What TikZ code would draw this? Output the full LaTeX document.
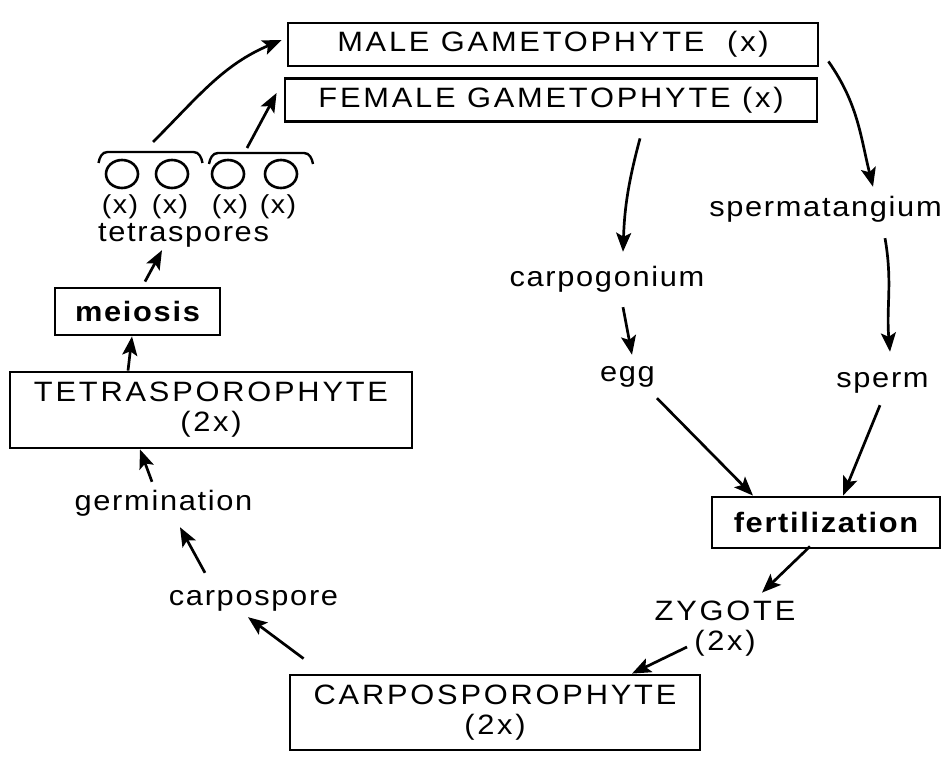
\documentclass[tikz,border=0pt]{standalone}
\usepackage{fontspec}
\newfontfamily\lblfont[LetterSpace=6,FakeStretch=1.1]{Liberation Sans}
\newfontfamily\capfont[LetterSpace=10,FakeStretch=1.1]{Liberation Sans}
\usetikzlibrary{arrows.meta}

\begin{document}
\begin{tikzpicture}[
  x=1pt, y=1pt,
  caps/.style={inner sep=2pt, align=center,
               font=\capfont\fontsize{28}{30}\selectfont},
  gbox/.style={caps, draw, line width=2.8pt, inner sep=0pt},
  bbox/.style={draw, line width=2.8pt, inner sep=0pt,
               font=\lblfont\bfseries\fontsize{28}{32}\selectfont},
  word/.style={inner sep=2pt, text height=20pt, text depth=6pt,
               font=\lblfont\fontsize{28}{32}\selectfont},
  ploid/.style={inner sep=1pt, font=\lblfont\fontsize{26}{28}\selectfont},
  arr/.style={line width=2.7pt, -{Stealth[length=19pt,width=15pt,inset=4pt]}}
]
  \useasboundingbox (0,0) rectangle (947,756);
  % the boxed generations
  \node[gbox, minimum width=530pt, minimum height=43pt] (male) at (553,711.5) {MALE GAMETOPHYTE\ \ (x)};
  \node[gbox, minimum width=532pt, minimum height=43pt] (female) at (551,656) {FEMALE GAMETOPHYTE (x)};
  \node[bbox, minimum width=165pt, minimum height=47pt] (mei) at (137.5,444.5) {meiosis};
  \node[gbox, minimum width=402pt, minimum height=76pt] (tetra) at (211,346) {TETRASPOROPHYTE\\(2x)};
  \node[bbox, minimum width=228pt, minimum height=51pt] (fert) at (826,233.5) {fertilization};
  \node[gbox, minimum width=410pt, minimum height=75pt] (carpo) at (495,43.5) {CARPOSPOROPHYTE\\(2x)};
  \node[caps] (zyg) at (725,127.5) {ZYGOTE\\(2x)};
  % plain words
  \node[word] (sptg) at (825.5,546) {spermatangium};
  \node[word] (sperm) at (882.5,376) {sperm};
  \node[word] (cpg) at (607,476) {carpogonium};
  \node[word] (egg) at (627.5,381) {egg};
  \node[word] (csp) at (253.5,158) {carpospore};
  \node[word] (germ) at (163.5,253) {germination};
  \node[word] (tsp) at (183.5,521) {tetraspores};
  % four tetraspores in two pairs
  \foreach \xp/\cx in {120/122, 170/172, 230/228, 278/281} {
    \node[ploid] (x\xp) at (\xp,549.5) {(x)};
    \draw[line width=2.6pt] (\cx,582) ellipse (16 and 14);
  }
  \coordinate (g1) at (150.5,604);
  \coordinate (g2) at (261,603);
  \foreach \g in {g1,g2}
    \draw[line width=2.4pt] ([shift={(-52,-11)}]\g) to[out=80,in=180] ([shift={(-43,0)}]\g)
      -- ([shift={(43,0)}]\g) to[out=0,in=100] ([shift={(52,-11)}]\g);
  % the cycle
  \draw[arr] ([xshift=9pt,yshift=6pt]male.south east) to[out=-55,in=104] ([xshift=47.5pt,yshift=8pt]sptg.north);
  \draw[arr] ([xshift=59.5pt,yshift=-13pt]sptg.south) to[out=-80,in=95] ([xshift=7.5pt,yshift=13pt]sperm.north);
  \draw[arr] ([xshift=89pt,yshift=-15.5pt]female.south) to[out=-105,in=88] ([xshift=16pt,yshift=13pt]cpg.north);
  \draw[arr] ([xshift=16pt,yshift=-12pt]cpg.south) -- ([xshift=4.5pt,yshift=5pt]egg.north);
  \draw[arr] ([xshift=29.5pt,yshift=-8pt]egg.south) -- ([xshift=-73pt]fert.north);
  \draw[arr] ([xshift=-2.5pt,yshift=-10pt]sperm.south) -- ([xshift=17pt]fert.north);
  \draw[arr] ([xshift=-16pt,yshift=3pt]fert.south) -- ([xshift=37pt,yshift=6pt]zyg.north);
  \draw[arr] ([xshift=-38pt,yshift=-18.5pt]zyg.center) -- ([xshift=137pt]carpo.north);
  \draw[arr] ([xshift=15pt,yshift=15pt]carpo.north west) -- ([xshift=-5.5pt,yshift=-4pt]csp.south);
  \draw[arr] ([xshift=-48.5pt,yshift=10pt]csp.north) -- ([xshift=16.5pt,yshift=-9pt]germ.south);
  \draw[arr] ([xshift=-11.5pt,yshift=6pt]germ.north) -- ([xshift=-71pt]tetra.south);
  \draw[arr] ([xshift=-83pt]tetra.north) -- ([xshift=-5.5pt]mei.south);
  \draw[arr] ([xshift=7.5pt,yshift=5pt]mei.north) -- ([xshift=-21.5pt]tsp.south);
  \draw[arr] ([xshift=2.5pt,yshift=10pt]g1) to[out=45,in=-157] ([xshift=-5pt,yshift=4.5pt]male.west);
  \draw[arr] ([xshift=-14pt,yshift=5pt]g2) -- ([xshift=-7pt,yshift=7pt]female.west);
\end{tikzpicture}
\end{document}
